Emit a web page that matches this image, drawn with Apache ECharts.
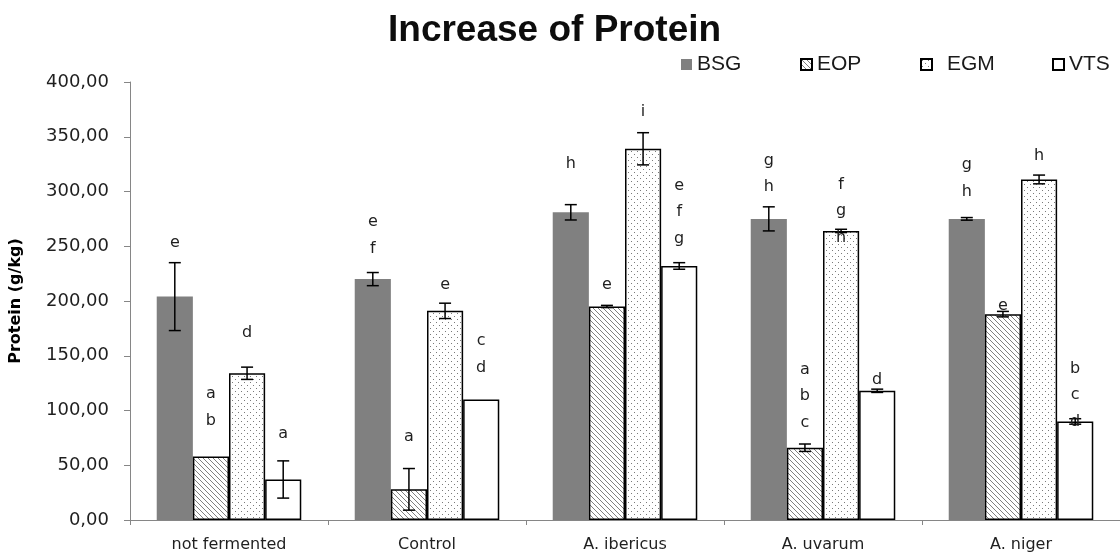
<!DOCTYPE html>
<html>
<head>
<meta charset="utf-8">
<title>Increase of Protein</title>
<script src="https://cdn.jsdelivr.net/npm/echarts@6/dist/echarts.min.js"></script>
<style>
  html, body { margin: 0; padding: 0; background: #ffffff; }
  #chart { width: 1120px; height: 560px; }
</style>
</head>
<body>
<div id="chart"></div>
<script>
// Protein content (g/kg) of four substrates, per fermentation treatment
const categories = ['not fermented', 'Control', 'A. ibericus', 'A. uvarum', 'A. niger'];
const seriesNames = ['BSG', 'EOP', 'EGM', 'VTS'];

const bsg = [204, 220, 281, 275, 275];
const eop = [58, 28, 195, 66, 188];
const egm = [134, 191, 339, 264, 311];
const vts = [37, 110, 232, 118, 90];

// standard deviations (0 = no error bar drawn)
const bsgErr = [31, 6, 7, 11, 1.2];
const eopErr = [0, 19, 1, 3.4, 2.5];
const egmErr = [5.6, 7, 14.7, 1.5, 4];
const vtsErr = [17, 0, 3, 1.5, 2.5];

// significance letters and the height (g/kg) of the lowest letter in each stack
const bsgSig = ['e', 'e\nf', 'h', 'g\nh', 'g\nh'];
const eopSig = ['a\nb', 'a', 'e', 'a\nb\nc', 'e'];
const egmSig = ['d', 'e', 'i', 'f\ng\nh', 'h'];
const vtsSig = ['a', 'c\nd', 'e\nf\ng', 'd', 'b\nc\nd'];
const bsgSigAt = [253, 248, 325, 304, 300];
const eopSigAt = [91, 76, 215, 89, 196];
const egmSigAt = [171, 215, 373, 258, 333];
const vtsSigAt = [79, 139, 257, 128, 90];

const yTicks = { min: 0, max: 400, interval: 50 };

const values = [bsg, eop, egm, vts];
const errors = [bsgErr, eopErr, egmErr, vtsErr];
const sigs = [bsgSig, eopSig, egmSig, vtsSig];
const sigAt = [bsgSigAt, eopSigAt, egmSigAt, vtsSigAt];

// ---- fill patterns ----
function hatchPattern() {
  const n = 5;
  const c = document.createElement('canvas');
  c.width = n; c.height = n;
  const g = c.getContext('2d');
  g.fillStyle = '#ffffff';
  g.fillRect(0, 0, n, n);
  g.strokeStyle = '#808080';
  g.lineWidth = 1;
  for (const off of [-n, 0, n]) {
    g.beginPath();
    g.moveTo(off - 1, -1);
    g.lineTo(off + n + 1, n + 1);
    g.stroke();
  }
  return c;
}
function dotPattern() {
  const n = 6;
  const c = document.createElement('canvas');
  c.width = n; c.height = n;
  const g = c.getContext('2d');
  g.fillStyle = '#ffffff';
  g.fillRect(0, 0, n, n);
  g.fillStyle = '#7a7a7a';
  g.fillRect(1, 1, 1, 1);
  g.fillRect(4, 4, 1, 1);
  return c;
}

const fills = [
  { color: '#808080', borderWidth: 0 },
  { color: { image: hatchPattern(), repeat: 'repeat' }, borderColor: '#000', borderWidth: 1.5 },
  { color: { image: dotPattern(), repeat: 'repeat' }, borderColor: '#000', borderWidth: 1.5 },
  { color: '#ffffff', borderColor: '#000', borderWidth: 1.5 }
];

const CAT_GAP = 0.27;
// horizontal centre of bar k inside category i, from the axis band width
function barX(api, i, k) {
  const cx = api.coord([i, 0])[0];
  const band = api.size([1, 0])[0];
  const bw = band * (1 - CAT_GAP) / 4;
  return cx + (k - 1.5) * bw;
}

const barSeries = seriesNames.map((name, k) => ({
  name,
  type: 'bar',
  data: values[k],
  barGap: '0%',
  barCategoryGap: (CAT_GAP * 100) + '%',
  itemStyle: fills[k],
  z: 2
}));

const errorSeries = seriesNames.map((name, k) => ({
  name: name + ' sd',
  type: 'custom',
  data: values[k].map((v, i) => [i, v, errors[k][i]]),
  encode: { x: 0, y: 1 },
  z: 5,
  renderItem(params, api) {
    const i = api.value(0), v = api.value(1), e = api.value(2);
    if (!e) return null;
    const x = barX(api, i, k);
    const top = api.coord([i, v + e])[1];
    const bot = api.coord([i, v - e])[1];
    const cap = 6;
    const st = { stroke: '#000', lineWidth: 1.5 };
    return {
      type: 'group',
      children: [
        { type: 'line', shape: { x1: x, y1: top, x2: x, y2: bot }, style: st },
        { type: 'line', shape: { x1: x - cap, y1: top, x2: x + cap, y2: top }, style: st },
        { type: 'line', shape: { x1: x - cap, y1: bot, x2: x + cap, y2: bot }, style: st }
      ]
    };
  }
}));

const LINE_H = 26.5;
const letterSeries = seriesNames.map((name, k) => ({
  name: name + ' letters',
  type: 'custom',
  data: sigAt[k].map((v, i) => [i, v]),
  encode: { x: 0, y: 1 },
  z: 6,
  renderItem(params, api) {
    const i = api.value(0), v = api.value(1);
    const x = barX(api, i, k);
    const y = api.coord([i, v])[1];
    return {
      type: 'text',
      x: x,
      y: y + LINE_H / 2,
      style: {
        text: sigs[k][params.dataIndex],
        align: 'center',
        verticalAlign: 'bottom',
        lineHeight: LINE_H,
        font: '16px "DejaVu Sans", sans-serif',
        fill: '#1f1f1f'
      }
    };
  }
}));

const legendLeft = [676, 795, 915, 1047];
const legends = seriesNames.map((name, k) => ({
  data: [name],
  left: legendLeft[k],
  top: 49,
  itemWidth: 11,
  itemHeight: 11,
  itemGap: 0,
  icon: 'rect',
  selectedMode: false,
  textStyle: {
    fontFamily: '"Liberation Sans Narrow", "Liberation Sans", sans-serif',
    fontSize: 21,
    color: '#1a1a1a',
    padding: k === 2 ? [0, 0, 0, 10] : [0, 0, 0, 0]
  }
}));

const chart = echarts.init(document.getElementById('chart'), null, { renderer: 'canvas' });
chart.setOption({
  animation: false,
  backgroundColor: '#ffffff',
  title: {
    text: 'Increase of Protein',
    left: 383,
    top: 7,
    textStyle: {
      fontFamily: '"Liberation Sans", Arial, sans-serif',
      fontWeight: 'bold',
      fontSize: 37,
      color: '#0d0d0d'
    }
  },
  legend: legends,
  grid: { left: 125, top: 82, width: 998, height: 438, containLabel: false },
  xAxis: {
    type: 'category',
    data: categories,
    axisLine: { lineStyle: { color: '#868686', width: 1 } },
    axisTick: { show: true, length: 5, lineStyle: { color: '#868686' } },
    axisLabel: {
      margin: 17,
      fontFamily: '"DejaVu Sans", sans-serif',
      fontSize: 16,
      color: '#1f1f1f'
    },
    splitLine: { show: false }
  },
  yAxis: {
    type: 'value',
    min: yTicks.min,
    max: yTicks.max,
    interval: yTicks.interval,
    name: 'Protein (g/kg)',
    nameLocation: 'middle',
    nameRotate: 90,
    nameGap: 106,
    nameTextStyle: {
      fontFamily: '"DejaVu Sans", sans-serif',
      fontWeight: 'bold',
      fontSize: 16,
      color: '#000'
    },
    axisLine: { show: true, lineStyle: { color: '#868686', width: 1 } },
    axisTick: { show: true, length: 6, lineStyle: { color: '#868686' } },
    axisLabel: {
      margin: 21,
      fontFamily: '"DejaVu Sans", sans-serif',
      fontSize: 18,
      color: '#1f1f1f',
      formatter: v => v.toFixed(2).replace('.', ',')
    },
    splitLine: { show: false }
  },
  series: [...barSeries, ...errorSeries, ...letterSeries]
});
</script>
</body>
</html>
